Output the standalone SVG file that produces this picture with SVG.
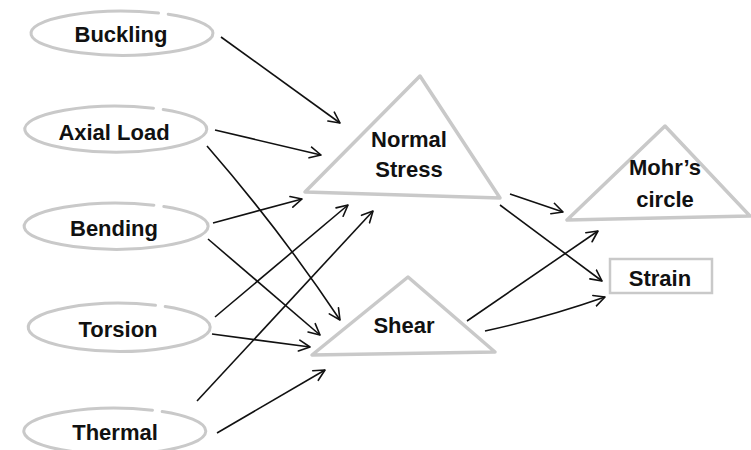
<svg xmlns="http://www.w3.org/2000/svg" width="751" height="450" viewBox="0 0 751 450">
<style>
.oval{fill:none;stroke:#c9c9c9;stroke-width:3;stroke-linecap:round}
.tri{fill:#fff;stroke:#c9c9c9;stroke-width:3.5;stroke-linejoin:round}
.box{fill:#fff;stroke:#c9c9c9;stroke-width:2.5}
.lbl{font-family:"Liberation Sans",Arial,sans-serif;font-weight:bold;font-size:22px;fill:#111;text-anchor:middle}
.edge{fill:none;stroke:#111;stroke-width:1.6;marker-end:url(#arr)}
</style>
<defs>
<marker id="arr" viewBox="-12 -7 14 14" markerWidth="14" markerHeight="14" refX="0" refY="0" markerUnits="userSpaceOnUse" orient="auto">
<path d="M-11,-5.5 L0,0 L-11,5.5" fill="none" stroke="#111" stroke-width="1.6" stroke-linecap="round" stroke-linejoin="round"/>
</marker>
</defs>
<rect width="751" height="450" fill="#fff"/>
<g id="edges">
<path class="edge" d="M221,37 L340,123"/>
<path class="edge" d="M215,130 L321,155"/>
<path class="edge" d="M207,146 Q280,230 340,320"/>
<path class="edge" d="M213,223 L302,199"/>
<path class="edge" d="M208,239 L320,335"/>
<path class="edge" d="M215,317 L348,205"/>
<path class="edge" d="M212,334 L310,347"/>
<path class="edge" d="M197,401 L373,211"/>
<path class="edge" d="M217,433 L325,370"/>
<path class="edge" d="M510,194 L563,212"/>
<path class="edge" d="M500,205 L602,281"/>
<path class="edge" d="M467,321 L598,231"/>
<path class="edge" d="M485,331 Q545,318 605,297"/>
</g>
<g id="buckling">
<path class="oval" d="M168.2,14.3 A91,22 0 1 1 158.5,13.1"/>
<text class="lbl" x="121" y="42">Buckling</text>
</g>
<g id="axial-load">
<path class="oval" d="M163.2,109.5 A91,23 0 1 1 153.5,108.2"/>
<text class="lbl" x="114" y="140">Axial Load</text>
</g>
<g id="bending">
<path class="oval" d="M163.8,206.5 A92,23 0 1 1 153.9,205.2"/>
<text class="lbl" x="114" y="236">Bending</text>
</g>
<g id="torsion">
<path class="oval" d="M165.2,306.6 A91,24 0 1 1 155.5,305.3"/>
<text class="lbl" x="118" y="337">Torsion</text>
</g>
<g id="thermal">
<path class="oval" d="M162.2,411.5 A91,23 0 1 1 152.5,410.2"/>
<text class="lbl" x="115" y="440">Thermal</text>
</g>
<g id="normal-stress">
<path class="tri" d="M420,76 L305,192 L500,198 Z"/>
<text class="lbl" x="409" y="147">Normal</text>
<text class="lbl" x="409" y="177">Stress</text>
</g>
<g id="shear">
<path class="tri" d="M408,277 L312,355 L495,352 Z"/>
<text class="lbl" x="404" y="333">Shear</text>
</g>
<g id="mohrs-circle">
<path class="tri" d="M665,126 L567,220 L750,216 Z"/>
<text class="lbl" x="665" y="175">Mohr’s</text>
<text class="lbl" x="665" y="207">circle</text>
</g>
<g id="strain">
<rect class="box" x="610" y="259" width="102" height="34"/>
<text class="lbl" x="660" y="286">Strain</text>
</g>
</svg>
